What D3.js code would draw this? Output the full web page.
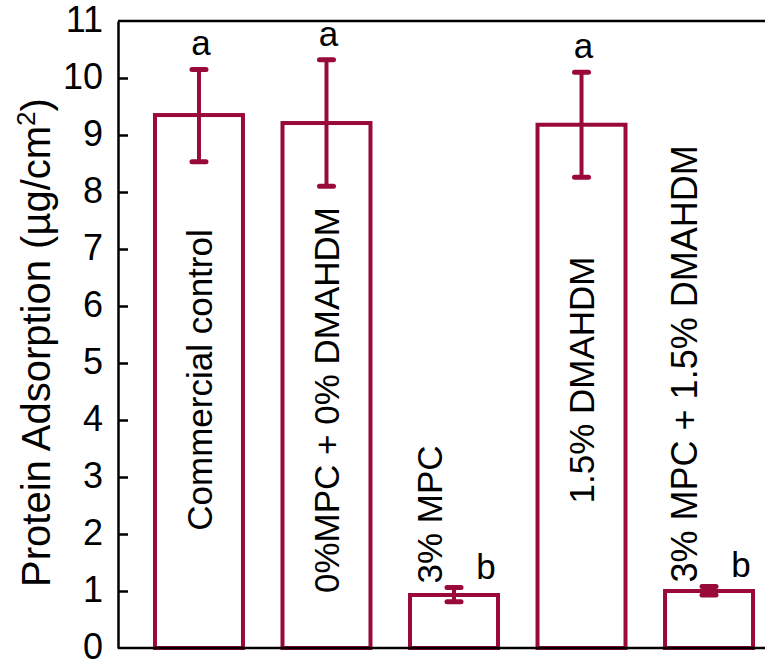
<!DOCTYPE html>
<html>
<head>
<meta charset="utf-8">
<script src="https://cdn.jsdelivr.net/npm/d3@7"></script>
<style>
  html, body { margin: 0; padding: 0; background: #fff; }
  svg { display: block; }
  text { font-family: "Liberation Sans", Arial, sans-serif; fill: #000; }
</style>
</head>
<body>
<svg id="chart" width="765" height="660"></svg>
<script>
const categories = ["Commercial control", "0%MPC + 0% DMAHDM", "3% MPC", "1.5% DMAHDM", "3% MPC + 1.5% DMAHDM"];
const means = [9.35, 9.21, 0.93, 9.18, 1.00];
const errLow = [8.53, 8.10, 0.81, 8.26, 0.93];
const errHigh = [10.15, 10.32, 1.06, 10.10, 1.08];
const groupLetters = ["a", "a", "b", "a", "b"];
const yTicks = [0, 1, 2, 3, 4, 5, 6, 7, 8, 9, 10, 11];
const yTitle = "Protein Adsorption (µg/cm";

const svg = d3.select("#chart");
const color = "#990A3A";
const x0 = 118, x1 = 790, yTop = 21, yBot = 648;

const x = d3.scaleBand().domain(categories).range([x0, x1]).paddingInner(0.31).paddingOuter(0.29);
const y = d3.scaleLinear().domain([0, 11]).range([yBot, yTop]);

// bars
const g = svg.append("g");
g.selectAll("rect.bar").data(categories).join("rect")
  .attr("class", "bar")
  .attr("x", d => x(d))
  .attr("y", (d, i) => y(means[i]))
  .attr("width", x.bandwidth())
  .attr("height", (d, i) => y(0) - y(means[i]))
  .attr("fill", "none")
  .attr("stroke", color)
  .attr("stroke-width", 4);

// error bars
const cx = d => x(d) + x.bandwidth() / 2;
g.selectAll("line.err").data(categories).join("line")
  .attr("x1", cx).attr("x2", cx)
  .attr("y1", (d, i) => y(errLow[i])).attr("y2", (d, i) => y(errHigh[i]))
  .attr("stroke", color).attr("stroke-width", 4);
[errLow, errHigh].forEach(arr => {
  g.selectAll(null).data(categories).join("line")
    .attr("x1", d => cx(d) - 7).attr("x2", d => cx(d) + 7)
    .attr("y1", (d, i) => y(arr[i])).attr("y2", (d, i) => y(arr[i]))
    .attr("stroke", color).attr("stroke-width", 5).attr("stroke-linecap", "round");
});

// axes frame
svg.append("line").attr("x1", x0).attr("x2", 765).attr("y1", yBot).attr("y2", yBot)
  .attr("stroke", "#000").attr("stroke-width", 2.5);
svg.append("line").attr("x1", x0).attr("x2", 765).attr("y1", yTop).attr("y2", yTop)
  .attr("stroke", "#000").attr("stroke-width", 2.5);

const yAxis = d3.axisLeft(y).tickValues(yTicks).tickFormat(d3.format("d"))
  .tickSizeInner(-10).tickSizeOuter(0).tickPadding(15);
const ya = svg.append("g").attr("transform", `translate(${x0},0)`).call(yAxis);
ya.select(".domain").attr("stroke", "#000").attr("stroke-width", 2.5);
ya.selectAll(".tick line").attr("stroke", "#000").attr("stroke-width", 2.5)
  .attr("display", d => (d === 0 || d === 11) ? "none" : null);
ya.selectAll(".tick text").attr("font-size", 36).attr("font-family", '"Liberation Sans", Arial, sans-serif')
  .attr("fill", "#000").attr("dy", "0.3em");

// y title
const t = svg.append("text")
  .attr("transform", `translate(50,${(yTop + yBot) / 2 + 8}) rotate(-90)`)
  .attr("text-anchor", "middle")
  .attr("font-size", 40);
t.append("tspan").text(yTitle);
t.append("tspan").text("2").attr("font-size", 26).attr("dy", -15);
t.append("tspan").text(")").attr("dy", 15);

// group letters
g.selectAll("text.letter").data(categories).join("text")
  .attr("class", "letter")
  .attr("x", (d, i) => cx(d) + (means[i] < 3 ? 32 : 2))
  .attr("y", (d, i) => y(errHigh[i]) - (means[i] < 3 ? 9 : 14))
  .attr("text-anchor", "middle")
  .attr("font-size", 35)
  .text((d, i) => groupLetters[i]);

// category labels (rotated)
g.selectAll("text.cat").data(categories).join("text")
  .attr("class", "cat")
  .attr("transform", (d, i) => {
    if (means[i] < 3) {
      return `translate(${cx(d) - 25},${y(errHigh[i]) - 4}) rotate(-90)`;
    }
    const midY = i === 1 ? 400 : 380;
    return `translate(${cx(d)},${midY}) rotate(-90)`;
  })
  .attr("text-anchor", (d, i) => means[i] < 3 ? "start" : "middle")
  .attr("dy", "0.36em")
  .attr("font-size", (d, i) => i === 4 ? 36 : 35)
  .text(d => d);
</script>
</body>
</html>
